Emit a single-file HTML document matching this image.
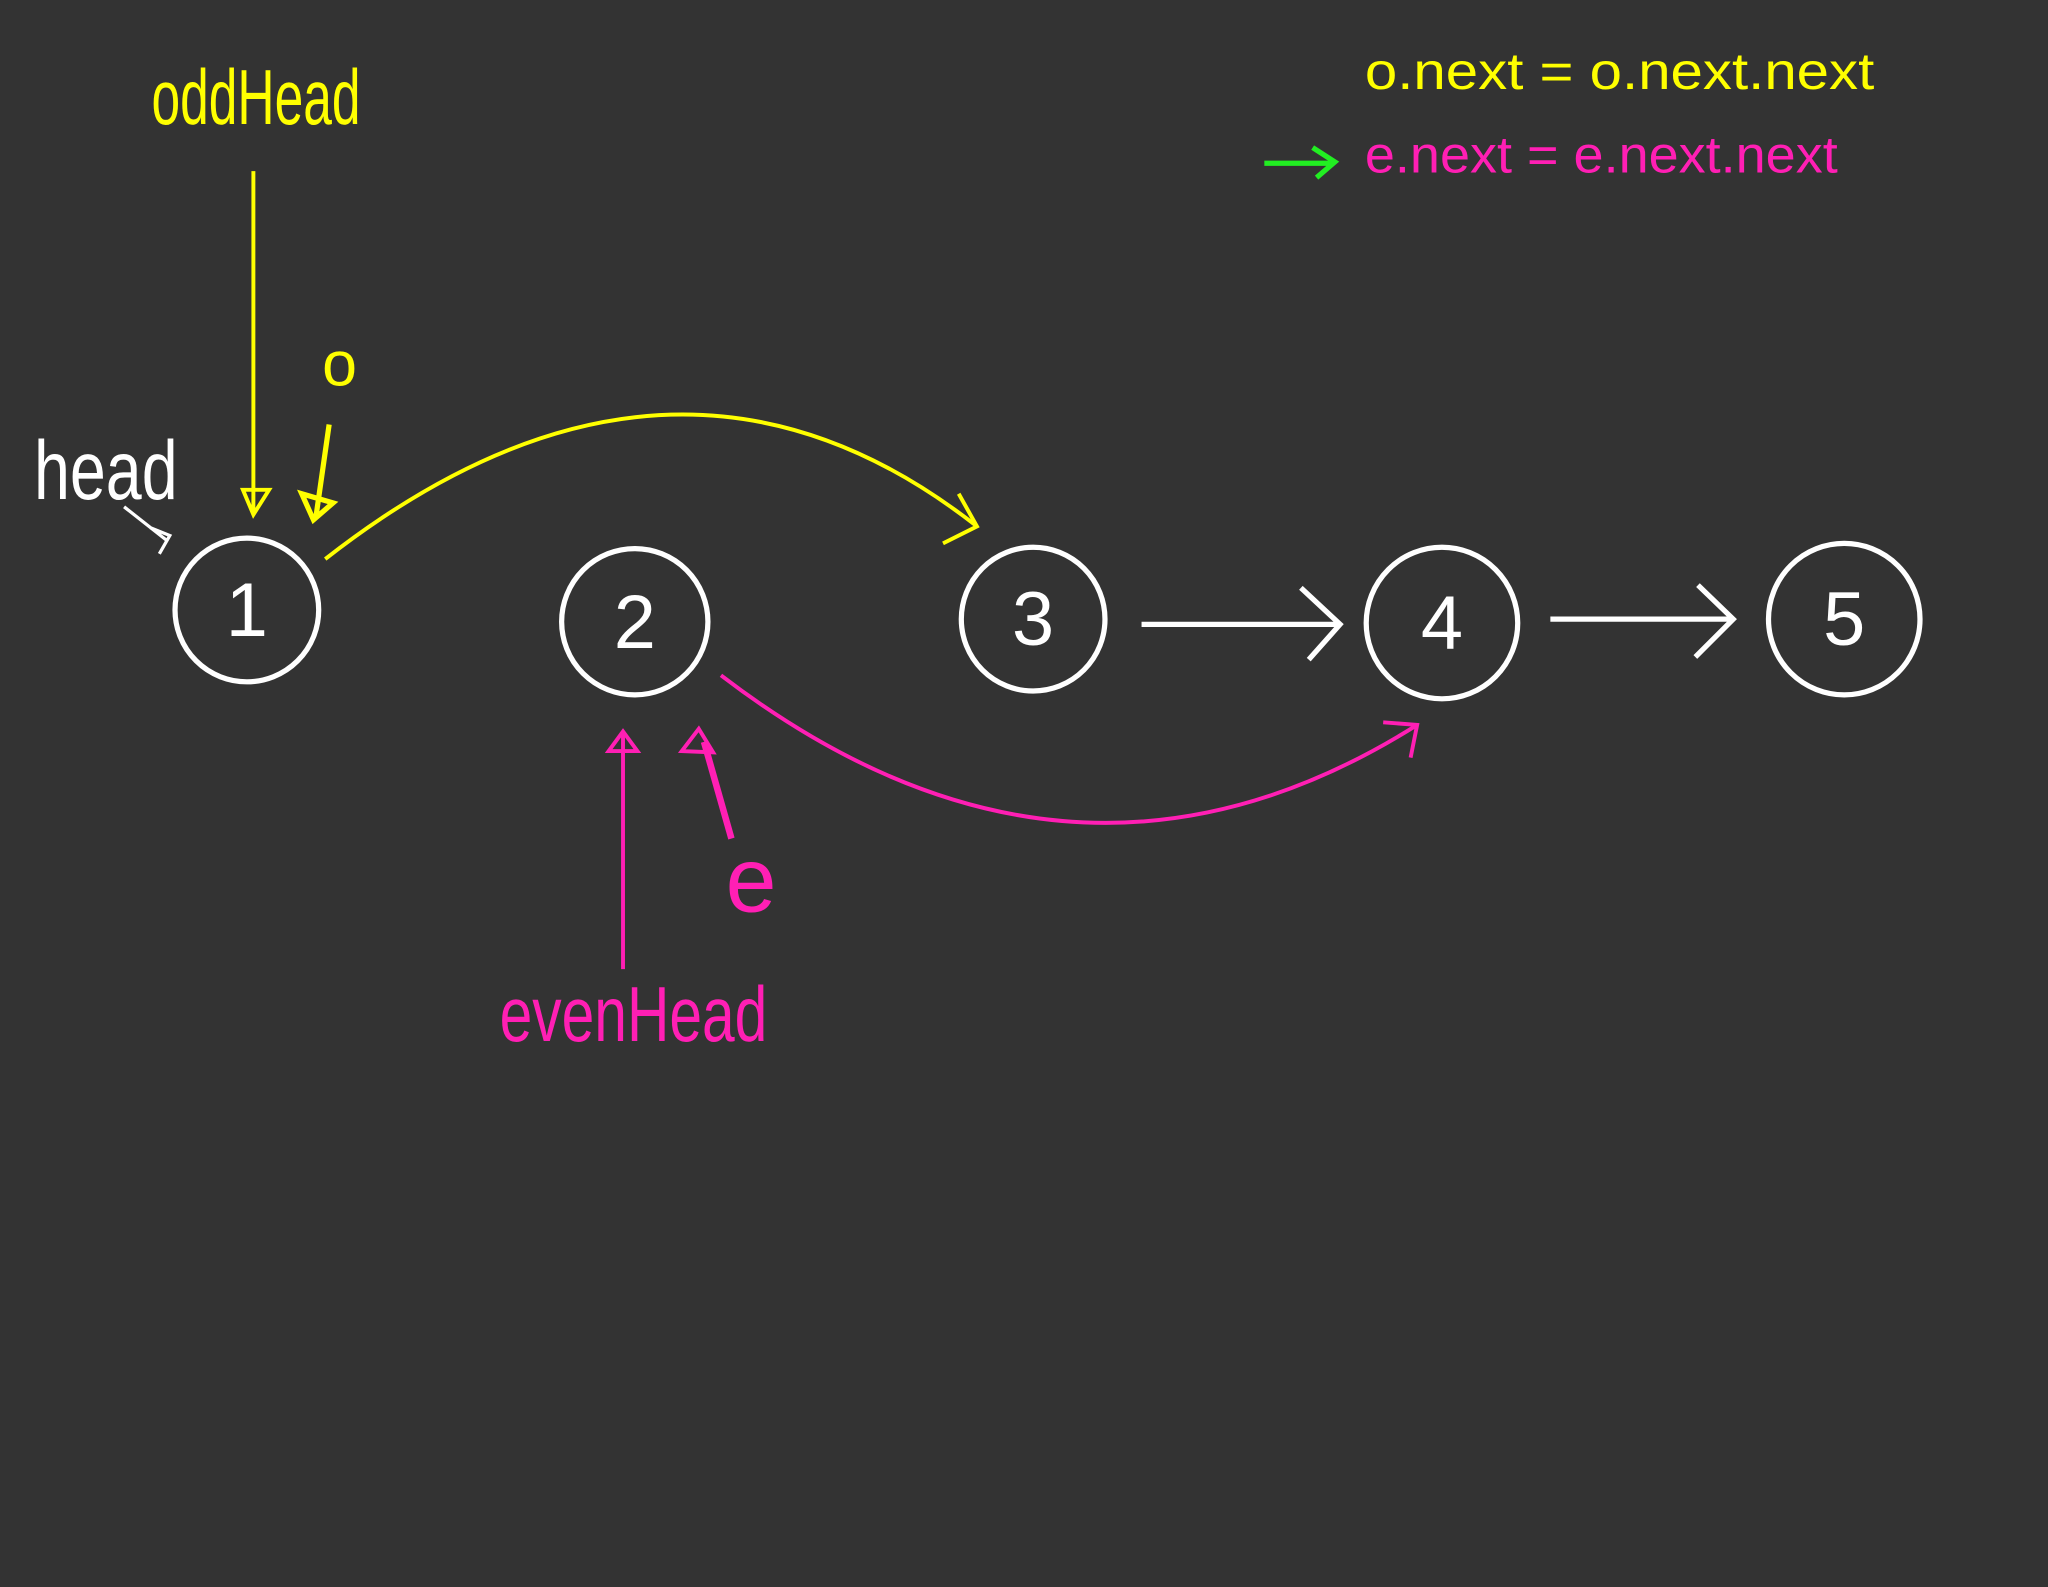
<!DOCTYPE html>
<html><head><meta charset="utf-8"><style>
html,body{margin:0;padding:0;background:#333333;}
svg{display:block;}
text{font-family:"Liberation Sans",sans-serif;}
</style></head><body>
<svg width="2048" height="1587" viewBox="0 0 1568 1215" preserveAspectRatio="none" xmlns="http://www.w3.org/2000/svg">
<rect width="1568" height="1215" fill="#333333"/>
<g fill="none" stroke="#ffffff" stroke-width="4">
<circle cx="189" cy="467" r="55"/>
<circle cx="486" cy="476" r="56"/>
<circle cx="791" cy="474" r="55"/>
<circle cx="1104" cy="477" r="58"/>
<circle cx="1412" cy="474" r="58"/>
<path d="M874 478 H1024 M996 450 L1026 478 L1002 505"/>
<path d="M1187 474 H1325 M1300 448 L1327 474 L1298 503"/>
<path d="M95 388 L128 414 M115 404 L130 410 L122 424" stroke-width="2.5"/>
</g>
<g fill="#ffffff" font-size="58" text-anchor="middle">
<text x="189" y="487">1</text>
<text x="486" y="496">2</text>
<text x="791" y="494">3</text>
<text x="1104" y="497">4</text>
<text x="1412" y="494">5</text>
</g>
<text x="26" y="382" fill="#fff" font-size="64" textLength="110" lengthAdjust="spacingAndGlyphs">head</text>
<g fill="none" stroke="#ffff00" stroke-width="3">
<path d="M249 428 Q515 220 748 403"/>
<path d="M734 378 L748 403 L722 416"/>
<path d="M194 131 V392 M186 375 L194 394 L206 375 Z"/>
<path d="M252 325 L242 395 M231 378 L240 398 L255 385 Z" stroke-width="4"/>
</g>
<text x="196" y="95" fill="#ffff00" font-size="60" text-anchor="middle" textLength="160" lengthAdjust="spacingAndGlyphs">oddHead</text>
<text x="260" y="295" fill="#ffff00" font-size="48" text-anchor="middle">o</text>
<g fill="none" stroke="#ff1fb4" stroke-width="3">
<path d="M552 517 Q820 722 1085 555"/>
<path d="M1059 553 L1085 555 L1080 580"/>
<path d="M477 742 V562 M466 575 L477 560 L488 575 Z"/>
<path d="M560 642 L539 568" stroke-width="5"/>
<path d="M522 575 L535 558 L546 576 Z"/>
</g>
<text x="575" y="698" fill="#ff1fb4" font-size="70" text-anchor="middle">e</text>
<text x="485" y="797" fill="#ff1fb4" font-size="60" text-anchor="middle" textLength="205" lengthAdjust="spacingAndGlyphs">evenHead</text>
<text x="1045" y="68" fill="#ffff00" font-size="40" textLength="390" lengthAdjust="spacingAndGlyphs">o.next = o.next.next</text>
<text x="1045" y="132" fill="#ff1fb4" font-size="40" textLength="362" lengthAdjust="spacingAndGlyphs">e.next = e.next.next</text>
<g fill="none" stroke="#22ee22" stroke-width="4">
<path d="M968 125 H1020 M1005 113 L1022 124 L1008 136"/>
</g>
</svg>
</body></html>
